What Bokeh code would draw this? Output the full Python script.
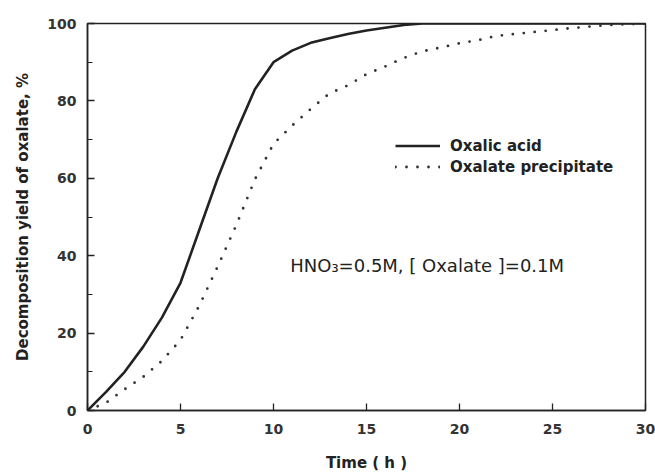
from bokeh.plotting import figure
from bokeh.models import Range1d, SingleIntervalTicker, Legend, LegendItem, Label
from bokeh.embed import file_html
from bokeh.resources import INLINE

# ---- data ----
time_acid = [0, 1, 2, 3, 4, 5, 6, 7, 8, 9, 10, 11, 12, 13, 14, 15, 16, 17, 18, 20, 25, 30]
yield_acid = [0, 4.8, 10, 16.5, 24, 33, 46.5, 60, 72, 83, 90, 93, 95, 96.2, 97.3, 98.2, 98.9, 99.6, 100, 100, 100, 100]

time_prec = [0, 1, 2, 3, 4, 5, 6, 7, 8, 9, 10, 11, 12, 13, 14, 15, 16, 17, 18, 19, 20,
             21, 22, 23, 24, 25, 26, 27, 28, 29, 30]
yield_prec = [0, 2, 5.5, 8.7, 12.8, 18.2, 27, 37.2, 47.9, 59.7, 68.9, 73.6, 77.9, 81.9, 84.0,
              86.9, 88.9, 91.1, 92.8, 93.8, 94.9, 95.7, 96.8, 97.3, 97.8, 98.3, 98.8, 99.2,
              99.6, 99.8, 100]

series_names = ["Oxalic acid", "Oxalate precipitate"]
x_label = "Time ( h )"
y_label = "Decomposition yield of oxalate, %"
note_text = "HNO\u2083=0.5M, [ Oxalate ]=0.1M"
note_pos = (10.9, 37.5)

FONT = "DejaVu Sans"
INK = "#222222"

p = figure(width=655, height=474, output_backend="svg", toolbar_location=None,
           x_range=Range1d(0, 30), y_range=Range1d(0, 100),
           min_border_left=87, min_border_right=10, min_border_top=23, min_border_bottom=60)

p.background_fill_color = "white"
p.border_fill_color = "white"
p.outline_line_color = INK
p.outline_line_width = 1.5
p.xgrid.visible = False
p.ygrid.visible = False

r_acid = p.line(time_acid, yield_acid, line_color=INK, line_width=2.6)
r_prec = p.line(time_prec, yield_prec, line_color="#333333", line_width=2.8,
                line_dash="0 11", line_cap="round")

# axes
p.xaxis.ticker = SingleIntervalTicker(interval=5, num_minor_ticks=0)
p.yaxis.ticker = SingleIntervalTicker(interval=20, num_minor_ticks=2)
for ax in (p.xaxis, p.yaxis):
    ax.axis_line_color = INK
    ax.axis_line_width = 1.5
    ax.major_tick_line_color = INK
    ax.major_tick_line_width = 1.3
    ax.major_tick_in = 7
    ax.major_tick_out = 0
    ax.minor_tick_line_color = INK
    ax.minor_tick_line_width = 1.2
    ax.minor_tick_in = 5
    ax.minor_tick_out = 0
    ax.major_label_text_font = FONT
    ax.major_label_text_font_size = "14px"
    ax.major_label_text_font_style = "bold"
    ax.major_label_text_color = "#333333"
    ax.axis_label_text_font = FONT
    ax.axis_label_text_font_size = "15px"
    ax.axis_label_text_font_style = "bold"
    ax.axis_label_text_color = INK
p.xaxis.major_label_standoff = 13
p.xaxis.axis_label_standoff = 17
p.yaxis.major_label_standoff = 11
p.yaxis.axis_label_standoff = 12
p.xaxis.minor_tick_line_color = None
p.xaxis.axis_label = x_label
p.yaxis.axis_label = y_label

legend = Legend(items=[LegendItem(label=series_names[0], renderers=[r_acid]),
                       LegendItem(label=series_names[1], renderers=[r_prec])],
                location=(308, 233))
legend.glyph_width = 45
legend.glyph_height = 21
legend.label_height = 21
legend.label_standoff = 10
legend.padding = 0
legend.spacing = 0
legend.margin = 0
legend.border_line_color = None
legend.background_fill_alpha = 0
legend.label_text_font = FONT
legend.label_text_font_size = "15px"
legend.label_text_font_style = "bold"
legend.label_text_color = INK
p.add_layout(legend, "center")

note = Label(x=note_pos[0], y=note_pos[1], text=note_text, text_font=FONT,
             text_font_size="18px", text_color=INK, text_baseline="middle", text_align="left")
p.add_layout(note)

open("out.html", "w").write(file_html(p, INLINE))
